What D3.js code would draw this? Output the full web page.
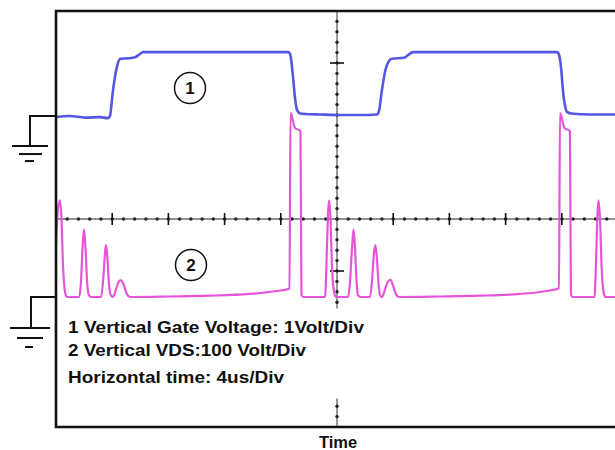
<!DOCTYPE html>
<html><head><meta charset="utf-8">
<script src="https://cdn.jsdelivr.net/npm/d3@7"></script>
<style>html,body{margin:0;padding:0;background:#fff;}svg{display:block;}</style>
</head><body>
<script>
// ---- data (time in µs, 4 µs/div; ch1 volts at 1 V/div; ch2 volts at 100 V/div)
const ch1Time  = [0, 1.0, 2.06, 3.13, 3.7, 3.84, 4.06, 4.34, 4.56, 5.12, 5.62, 5.91, 6.19, 16.51, 16.65, 16.73, 16.87, 17.01, 17.15, 17.37, 17.72, 18.79, 20.21, 21.64, 22.85, 22.99, 23.2, 23.42, 23.7, 23.91, 24.77, 25.05, 25.41, 35.66, 35.8, 35.94, 36.08, 36.23, 36.37, 36.65, 38.0, 40];
const ch1Volts = [-0.02, 0.0, -0.03, -0.02, -0.04, 0.0, 0.5, 0.95, 1.1, 1.11, 1.13, 1.18, 1.23, 1.23, 1.2, 1.1, 0.75, 0.35, 0.12, 0.05, 0.04, 0.03, 0.02, 0.02, 0.03, 0.1, 0.5, 0.85, 1.06, 1.1, 1.12, 1.17, 1.23, 1.23, 1.18, 0.95, 0.5, 0.2, 0.08, 0.05, 0.03, 0.03];

const ch2Time  = [0, 0.14, 0.28, 0.39, 0.5, 0.64, 0.78, 1.64, 1.78, 1.89, 1.99, 2.1, 2.21, 2.35, 2.56, 3.2, 3.35, 3.49, 3.56, 3.67, 3.77, 3.91, 4.06, 4.27, 4.48, 4.63, 4.84, 5.05, 5.27, 8.11, 10.96, 13.81, 15.59, 16.62, 16.69, 17.01, 17.4, 17.47, 17.58,
                  19.15, 19.29, 19.36, 19.43, 19.54, 19.64, 19.79, 19.93, 20.78, 20.93, 21.07, 21.18, 21.28, 21.39, 21.5, 21.71, 22.35, 22.49, 22.63, 22.74, 22.85, 22.96, 23.06, 23.2, 23.42, 23.63, 23.81, 23.99, 24.2, 24.41, 27.33, 30.18, 33.02, 34.8, 35.8, 35.87, 36.19, 36.58, 36.65, 36.76,
                  38.33, 38.47, 38.54, 38.61, 38.72, 38.83, 38.97, 39.11, 40];
const ch2Volts = [100, 170, 186, 150, 60, 10, 0, 0, 30, 95, 130, 95, 30, 3, 0, 0, 30, 85, 100, 70, 25, 3, 0, 15, 30, 32, 22, 5, 0, 1, 2.5, 6, 11, 16, 354, 325, 319, 5, 0,
                  0, 100, 160, 186, 150, 60, 10, 0, 0, 30, 95, 130, 95, 30, 3, 0, 0, 30, 85, 100, 70, 25, 3, 0, 15, 30, 33, 22, 5, 0, 1, 2.5, 6, 11, 17, 354, 325, 319, 5, 0,
                  0, 100, 160, 186, 150, 60, 10, 0, 0];

const timeDomain = [0, 40];          // 10 divisions × 4 µs
const divDomain = [-4, 4];           // 8 vertical divisions
const ch1VoltsPerDiv = 1, ch2VoltsPerDiv = 100;
const ch1GroundDiv = 1.98, ch2GroundDiv = -1.5;
const hMajorDivs = [4, 8, 12, 16, 24, 28, 32, 36];   // µs where major ticks show on centre line
const vMajorDivs = [3, -1];
const legendLines = ["1 Vertical Gate Voltage: 1Volt/Div", "2 Vertical VDS:100 Volt/Div", "Horizontal time: 4us/Div"];
const xTitle = "Time";
const channelLabels = ["1", "2"];

// ---- drawing
const W = 615, H = 450;
const svg = d3.select("body").append("svg").attr("width", W).attr("height", H);
const x = d3.scaleLinear().domain(timeDomain).range([56, 618]);
const y = d3.scaleLinear().domain(divDomain).range([427, 11]);
const y1 = v => y(ch1GroundDiv + v / ch1VoltsPerDiv);
const y2 = v => y(ch2GroundDiv + v / ch2VoltsPerDiv);

// centre graticule
const g = svg.append("g");
const cy = y(0), cx = x(20);
g.append("line").attr("x1", x(0)).attr("x2", x(40)).attr("y1", cy).attr("y2", cy)
  .attr("stroke", "#222").attr("stroke-width", 1.2);
g.selectAll("circle.hm").data(d3.range(1, 50)).join("circle")
  .attr("cx", i => x(i * 0.8)).attr("cy", cy).attr("r", 1.7).attr("fill", "#222");
g.selectAll("line.hM").data(hMajorDivs).join("line")
  .attr("x1", d => x(d)).attr("x2", d => x(d)).attr("y1", cy - 6).attr("y2", cy + 6)
  .attr("stroke", "#111").attr("stroke-width", 1.6);
// vertical centre line (two segments)
[[4, -1.72], [-3.45, -4]].forEach(([a, b]) => {
  g.append("line").attr("x1", cx).attr("x2", cx).attr("y1", y(a)).attr("y2", y(b))
    .attr("stroke", "#333").attr("stroke-width", 1);
});
g.selectAll("circle.vm").data(d3.range(1, 40).map(i => -4 + i * 0.2).filter(v => v > -1.72 || v < -3.45)).join("circle")
  .attr("cx", cx).attr("cy", v => y(v)).attr("r", 1.7).attr("fill", "#222");
g.selectAll("line.vM").data(vMajorDivs).join("line")
  .attr("x1", cx - 7).attr("x2", cx + 7).attr("y1", d => y(d)).attr("y2", d => y(d))
  .attr("stroke", "#111").attr("stroke-width", 1.6);

// traces
const line = d3.line().curve(d3.curveMonotoneX);
svg.append("path").attr("d", line(ch2Time.map((t, i) => [x(t), y2(ch2Volts[i])])))
  .attr("fill", "none").attr("stroke", "#e655d8").attr("stroke-width", 2.2).attr("stroke-linejoin", "round");
svg.append("path").attr("d", line(ch1Time.map((t, i) => [x(t), y1(ch1Volts[i])])))
  .attr("fill", "none").attr("stroke", "#5656e4").attr("stroke-width", 2.6).attr("stroke-linejoin", "round");

// frame
const fr = svg.append("g").attr("stroke", "#111").attr("stroke-width", 2.6).attr("fill", "none");
fr.append("path").attr("d", `M${x(40)},${y(4)}H${x(0)}V${y(-4)}H${x(40)}`);

// ground symbols
function ground(gy, vx, vy2, bars) {
  const gg = svg.append("g").attr("stroke", "#111").attr("stroke-width", 2).attr("fill", "none");
  gg.append("path").attr("d", `M${x(0)},${gy}H${vx}V${vy2}`);
  bars.forEach(([yy, a, b]) => gg.append("line").attr("x1", a).attr("x2", b).attr("y1", yy).attr("y2", yy));
}
ground(y1(0), 30, y1(0) + 30, [[y1(0) + 30, 12, 48], [y1(0) + 38, 19, 42], [y1(0) + 45, 25, 34]]);
ground(y2(0), 31, y2(0) + 31, [[y2(0) + 31, 10, 50], [y2(0) + 41, 17, 43], [y2(0) + 50, 25, 33]]);

// channel markers
[[190, 88, channelLabels[0]], [191, 265, channelLabels[1]]].forEach(([mx, my, t]) => {
  svg.append("circle").attr("cx", mx).attr("cy", my).attr("r", 15.5)
    .attr("fill", "#fff").attr("stroke", "#111").attr("stroke-width", 1.5);
  svg.append("text").attr("x", mx).attr("y", my + 6).attr("text-anchor", "middle")
    .attr("font-family", "Liberation Sans, Arial, sans-serif").attr("font-weight", "bold")
    .attr("font-size", 17).attr("fill", "#111").text(t);
});

// legend text
const legY = [333, 356, 383], legW = [296, 238, 216];
legendLines.forEach((t, i) => {
  svg.append("text").attr("x", 68).attr("y", legY[i])
    .attr("font-family", "Liberation Sans, Arial, sans-serif").attr("font-weight", "bold")
    .attr("font-size", 17).attr("fill", "#111")
    .attr("textLength", legW[i]).attr("lengthAdjust", "spacingAndGlyphs").text(t);
});
svg.append("text").attr("x", 338).attr("y", 448).attr("text-anchor", "middle")
  .attr("font-family", "Liberation Sans, Arial, sans-serif").attr("font-weight", "bold")
  .attr("font-size", 16.5).attr("fill", "#111").text(xTitle);
</script>
</body></html>
